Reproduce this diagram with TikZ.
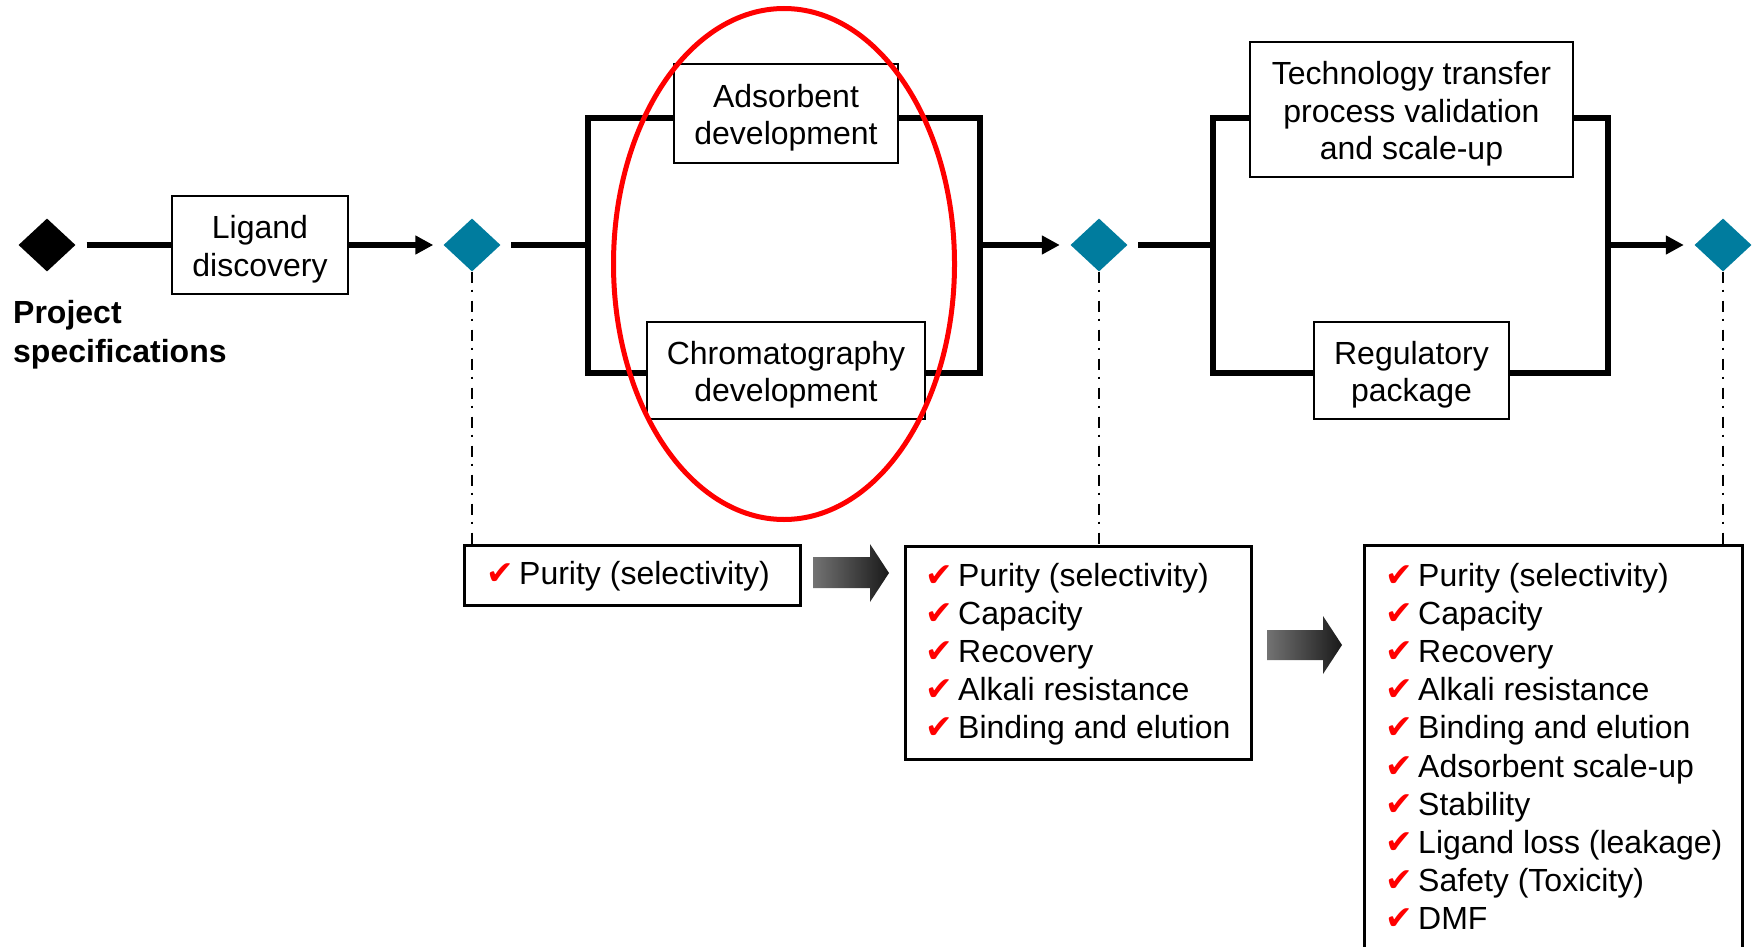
\documentclass[tikz,border=0pt]{standalone}
\usepackage{fontspec}
\setmainfont{Liberation Sans}
\newfontfamily\dejavu{DejaVu Sans}
\usetikzlibrary{shapes.geometric,arrows.meta}
\definecolor{gatecol}{RGB}{0,124,158}
\newcommand\ckm{\makebox[33pt][l]{\textcolor{red}{\dejavu\fontsize{33}{33}\selectfont ✔}}}
\newcommand\tallstrut{\rule{0pt}{32pt}}
\begin{document}
\begin{tikzpicture}[x=1pt,y=-1pt,
  box/.style={draw, line width=2.5pt, fill=white, inner sep=0pt, align=center, font=\fontsize{32}{37.5}\selectfont},
  gate/.style={diamond, fill=gatecol, inner sep=0pt, minimum width=57pt, minimum height=53pt},
  flow/.style={line width=5.5pt},
  arr/.style={flow, -{Triangle[length=18pt,width=18pt]}},
  guide/.style={line width=2.5pt, dash pattern=on 11pt off 7pt on 2.5pt off 8.5pt},
  frame/.style={draw, line width=2.5pt, inner sep=0pt, anchor=north west},
  list/.style={align=left, inner sep=0pt, font=\fontsize{32}{38.2}\selectfont, anchor=base west},
  hilite/.style={draw=red, line width=5pt}
]
\useasboundingbox (0,0) rectangle (1758,947);
% bracket corners
\coordinate (b1nw) at (588,118);
\coordinate (b1se) at (980,373);
\coordinate (b1w) at (588,245);
\coordinate (b1e) at (980,245);
\coordinate (b2nw) at (1213,118);
\coordinate (b2se) at (1608,373);
\coordinate (b2w) at (1213,245);
\coordinate (b2e) at (1608,245);
\draw[flow] (b1nw) rectangle (b1se);
\draw[flow] (b2nw) rectangle (b2se);
% nodes
\node[gate, fill=black] (start) at (47,245) {};
\node[anchor=base west, align=left, inner sep=0pt, font=\bfseries\fontsize{32}{39}\selectfont] (spec) at (13,362) {Project\\specifications};
\node[box, minimum width=176pt, minimum height=98pt] (lig) at (260,245) {\tallstrut Ligand\\discovery};
\node[gate] (g1) at (472,245) {};
\node[box, minimum width=224pt, minimum height=99pt] (ads) at (786,113.5) {\tallstrut Adsorbent\\development};
\node[box, minimum width=278pt, minimum height=97pt] (chrom) at (786,370.5) {\tallstrut Chromatography\\development};
\node[gate] (g2) at (1099,245) {};
\node[box, minimum width=323pt, minimum height=135pt] (tech) at (1411.5,109.5) {\tallstrut Technology transfer\\process validation\\and scale-up};
\node[box, minimum width=195pt, minimum height=97pt] (reg) at (1411.5,370.5) {\tallstrut Regulatory\\package};
\node[gate] (g3) at (1723,245) {};
% connectors
\draw[flow, shorten <=11pt] (start.east) -- (lig.west);
\draw[arr, shorten >=10pt] (lig.east) -- (g1.west);
\draw[flow, shorten <=10.5pt] (g1.east) -- (b1w);
\draw[arr, shorten >=10.5pt] (b1e) -- (g2.west);
\draw[flow, shorten <=10.5pt] (g2.east) -- (b2w);
\draw[arr, shorten >=10.5pt] (b2e) -- (g3.west);
% requirement boxes
\node[frame, minimum width=336pt, minimum height=60pt] (f1) at (463,544) {};
\node[frame, minimum width=346pt, minimum height=213pt] (f2) at (904,545) {};
\node[frame, minimum width=378pt, minimum height=440pt] (f3) at (1363,544) {};
\node[list] (t1) at (486,584) {\ckm Purity (selectivity)};
\node[list] (t2) at (925,738.8) {\ckm Purity (selectivity)\\\ckm Capacity\\\ckm Recovery\\\ckm Alkali resistance\\\ckm Binding and elution};
\node[list] (t3) at (1385,929.8) {\ckm Purity (selectivity)\\\ckm Capacity\\\ckm Recovery\\\ckm Alkali resistance\\\ckm Binding and elution\\\ckm Adsorbent scale-up\\\ckm Stability\\\ckm Ligand loss (leakage)\\\ckm Safety (Toxicity)\\\ckm DMF};
% guides
\draw[guide] (g1.south) -- (g1.south |- f1.north);
\draw[guide] (g2.south) -- (g2.south |- f2.north);
\draw[guide] (g3.south) -- (g3.south |- f3.north);
% gradient arrows
\shade[left color=black!55, right color=black!90] (813,557) -- (870,557) -- (870,544) -- (889,573) -- (870,602) -- (870,588) -- (813,588) -- cycle;
\shade[left color=black!55, right color=black!90] (1267,630) -- (1323,630) -- (1323,616) -- (1342,645) -- (1323,674) -- (1323,660) -- (1267,660) -- cycle;
% highlight
\draw[hilite] (784,264) ellipse [x radius=170.5, y radius=255.5];
\end{tikzpicture}
\end{document}
